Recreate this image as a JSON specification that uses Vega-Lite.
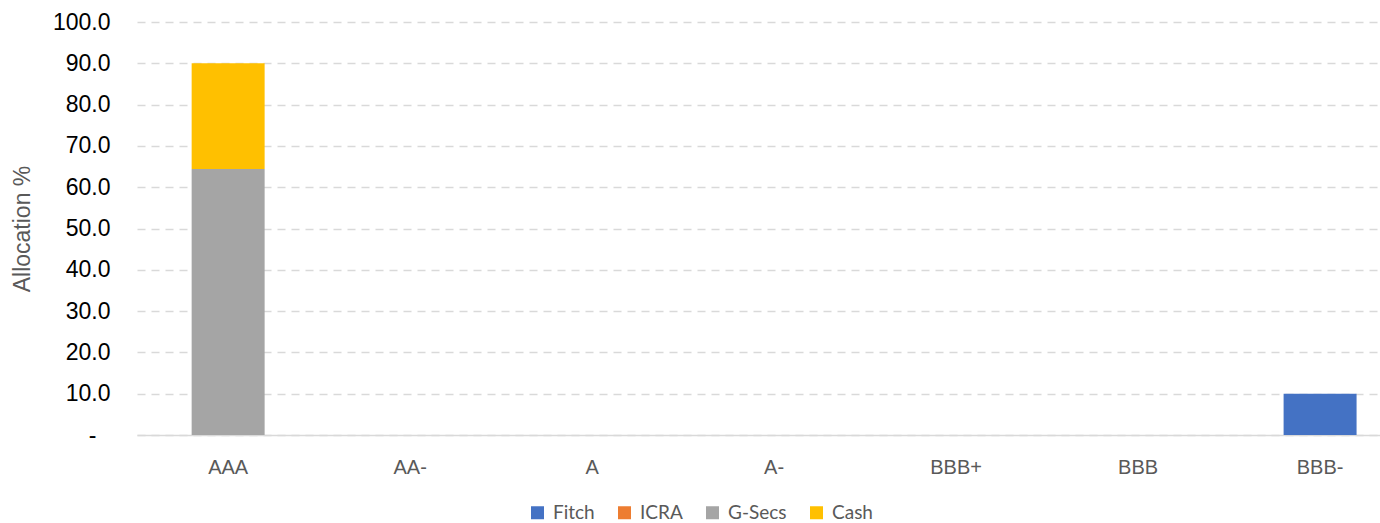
{
  "$schema": "https://vega.github.io/schema/vega-lite/v6.json",
  "autosize": {"type": "none"},
  "padding": {"left": 137, "top": 22, "right": 0, "bottom": 88},
  "width": 1243,
  "height": 413,
  "background": "white",
  "config": {"view": {"stroke": null}},
  "data": {
    "values": [
      {"rating": "AAA", "type": "G-Secs", "value": 64.4},
      {"rating": "AAA", "type": "Cash", "value": 25.6},
      {"rating": "AA-", "type": "Fitch", "value": 0},
      {"rating": "A", "type": "Fitch", "value": 0},
      {"rating": "A-", "type": "Fitch", "value": 0},
      {"rating": "BBB+", "type": "Fitch", "value": 0},
      {"rating": "BBB", "type": "Fitch", "value": 0},
      {"rating": "BBB-", "type": "Fitch", "value": 10.0}
    ]
  },
  "mark": {"type": "bar"},
  "encoding": {
    "x": {
      "field": "rating",
      "type": "nominal",
      "sort": ["AAA", "AA-", "A", "A-", "BBB+", "BBB", "BBB-"],
      "scale": {"paddingInner": 0.599, "paddingOuter": 0.2145, "align": 0.7},
      "axis": {
        "title": null,
        "labelAngle": 0,
        "labelFont": "Liberation Sans",
        "labelFontSize": 20,
        "labelColor": "#595959",
        "labelPadding": 22,
        "ticks": false,
        "tickSize": 0,
        "domain": true,
        "domainColor": "#D9D9D9",
        "domainWidth": 1.5,
        "grid": false
      }
    },
    "y": {
      "field": "value",
      "type": "quantitative",
      "stack": "zero",
      "scale": {"domain": [0, 100], "nice": false},
      "axis": {
        "title": "Allocation %",
        "titleFont": "Liberation Sans",
        "titleFontSize": 23,
        "titleFontWeight": "normal",
        "titleColor": "#595959",
        "titlePadding": 18,
        "values": [0, 10, 20, 30, 40, 50, 60, 70, 80, 90, 100],
        "labelExpr": "datum.value == 0 ? '-' : format(datum.value, '.1f')",
        "labelFont": "Liberation Sans",
        "labelFontSize": 23,
        "labelColor": "#000000",
        "labelPadding": {"condition": {"test": "datum.value == 0", "value": 41}, "value": 27},
        "ticks": false,
        "tickSize": 0,
        "domain": false,
        "grid": true,
        "gridColor": "#D9D9D9",
        "gridWidth": 1.5,
        "gridDash": [8, 6]
      }
    },
    "color": {
      "field": "type",
      "type": "nominal",
      "sort": ["Fitch", "ICRA", "G-Secs", "Cash"],
      "scale": {
        "domain": ["Fitch", "ICRA", "G-Secs", "Cash"],
        "range": ["#4472C4", "#ED7D31", "#A5A5A5", "#FFC000"]
      },
      "legend": {
        "title": null,
        "orient": "none",
        "direction": "horizontal",
        "legendX": 391,
        "legendY": 481,
        "symbolType": "square",
        "symbolSize": 169,
        "symbolStrokeWidth": 0,
        "symbolOpacity": 1,
        "labelFont": "Lato",
        "labelFontSize": 19,
        "labelColor": "#595959",
        "labelOffset": 6,
        "columnPadding": 20
      }
    }
  }
}
